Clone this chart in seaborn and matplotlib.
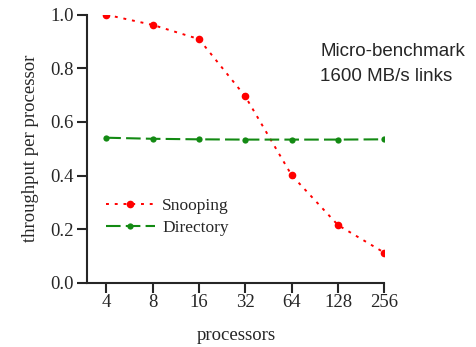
import pandas as pd
import numpy as np
import seaborn as sns
import matplotlib.pyplot as plt

processors = [4, 8, 16, 32, 64, 128, 256]
snooping = [1.0, 0.962, 0.909, 0.695, 0.401, 0.215, 0.112]
directory = [0.541, 0.537, 0.535, 0.534, 0.534, 0.534, 0.535]

df = pd.DataFrame({'processors': processors, 'Snooping': snooping, 'Directory': directory})

sns.set_style('ticks')
plt.rcParams['font.family'] = ['Liberation Serif', 'DejaVu Serif']

fig = plt.figure(figsize=(4.76, 3.47), dpi=100)
ax = fig.add_axes([0.1834, 0.1853, 0.624, 0.7723])

sns.lineplot(data=df, x='processors', y='Snooping', ax=ax, color='#ff0000', marker='o',
             markersize=5.5, markeredgewidth=0, lw=1.4, linestyle=(0, (1.5, 3)), label='Snooping')
sns.lineplot(data=df, x='processors', y='Directory', ax=ax, color='#138a13', marker='o',
             markersize=4.5, markeredgewidth=0, lw=1.5, linestyle=(0, (7, 2.5)), label='Directory')

ax.set_xscale('log', base=2)
ax.set_xlim(4 * 2 ** -0.41, 256)
ax.set_ylim(0, 1.0)
ax.set_xticks(processors)
ax.set_xticklabels([str(p) for p in processors])
ax.minorticks_off()
ax.set_yticks([0.0, 0.2, 0.4, 0.6, 0.8, 1.0])
ax.set_yticklabels(['0.0', '0.2', '0.4', '0.6', '0.8', '1.0'])
ax.tick_params(axis='both', labelsize=13.5, length=7, width=1.5)
ax.tick_params(axis='x', pad=1)
ax.tick_params(axis='y', pad=3)

sns.despine(ax=ax)
for s in ['left', 'bottom']:
    ax.spines[s].set_linewidth(1.5)

ax.set_xlabel('processors', fontsize=13.5, labelpad=12)
ax.set_ylabel('throughput per processor', fontsize=13.5, labelpad=8)

ax.text(0.7835, 0.816, 'Micro-benchmark\n1600 MB/s links', transform=ax.transAxes,
        family=['Liberation Sans', 'DejaVu Sans'], fontsize=13.5, va='center', ha='left',
        linespacing=1.65)

leg = ax.legend(loc='center left', bbox_to_anchor=(0.01, 0.245), frameon=False,
                fontsize=12.5, handlelength=2.8, handletextpad=0.45, labelspacing=0.3)

plt.savefig('out.png', dpi=100)
